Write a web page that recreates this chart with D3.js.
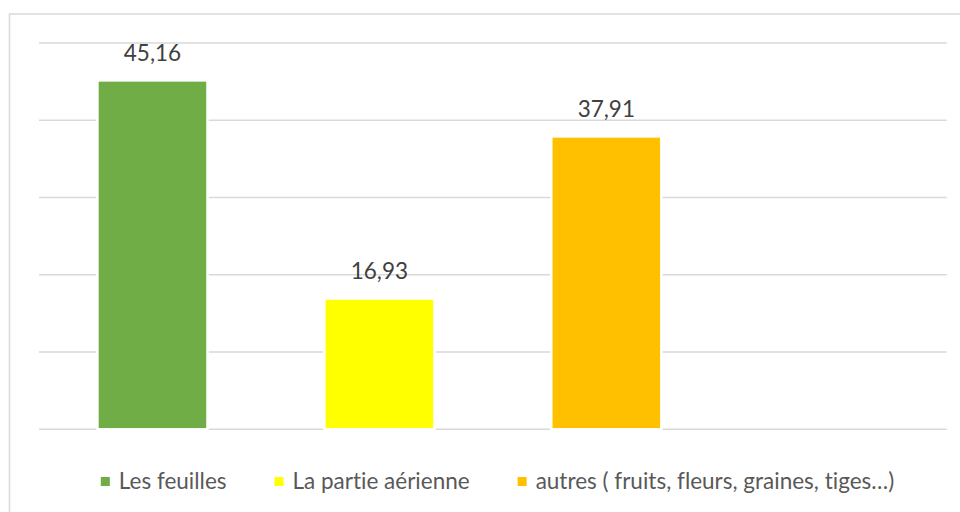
<!DOCTYPE html>
<head>
  <meta charset="UTF-8">
  <title>Parties utilisées</title>
  <script src="https://d3js.org/d3.v7.min.js"></script>
  <style>
    body { margin: 0; background: #fff; }
    svg { display: block; font-family: Lato, "Open Sans", sans-serif; font-variant-ligatures: none; font-feature-settings: "liga" 0, "clig" 0; }
  </style>
</head>
<body>
<svg id="chart"></svg>
<script>
// data
const categories = ["Les feuilles", "La partie aérienne", "autres ( fruits, fleurs, graines, tiges…)", ""];
const values = [45.16, 16.93, 37.91, null];
const labels = ["45,16", "16,93", "37,91"];
const colors = ["#70ad47", "#ffff00", "#ffc000"];
const yTicks = [0, 10, 20, 30, 40, 50];

const width = 960, height = 512;
const svg = d3.select("#chart").attr("width", width).attr("height", height);

// chart frame (right and bottom edge fall outside the picture)
svg.append("rect")
  .attr("x", 9.5).attr("y", 14)
  .attr("width", 1000).attr("height", 600)
  .attr("fill", "none").attr("stroke", "#d9d9d9").attr("stroke-width", 1.5);

const x = d3.scaleBand()
  .domain(d3.range(categories.length))
  .range([39, 946.7])
  .paddingInner(0.515)
  .paddingOuter(0.2575);

const y = d3.scaleLinear().domain([0, 50]).range([429.3, 43]);

// gridlines
svg.append("g")
  .selectAll("line")
  .data(yTicks)
  .enter()
  .append("line")
    .attr("x1", 39).attr("x2", 946.7)
    .attr("y1", d => y(d)).attr("y2", d => y(d))
    .attr("stroke", "#d9d9d9").attr("stroke-width", 1.5);

const data = values.map((v, i) => ({i: i, v: v})).filter(d => d.v !== null);

svg.append("g")
  .selectAll("rect")
  .data(data)
  .enter()
  .append("rect")
    .attr("x", d => x(d.i))
    .attr("y", d => y(d.v))
    .attr("width", x.bandwidth())
    .attr("height", d => y(0) - y(d.v))
    .attr("fill", d => colors[d.i])
    .attr("stroke", "#fff").attr("stroke-width", 2.5);

svg.append("g")
  .selectAll("text")
  .data(data)
  .enter()
  .append("text")
    .attr("x", d => x(d.i) + x.bandwidth() / 2)
    .attr("y", d => y(d.v) - 19)
    .attr("text-anchor", "middle")
    .attr("fill", "#404040")
    .style("font-size", "22.5px")
    .text(d => labels[d.i]);

// legend, centred under the plot
const legend = svg.append("g");
const items = legend.selectAll("g")
  .data(data)
  .enter()
  .append("g");

items.append("rect")
  .attr("width", 9).attr("height", 9)
  .attr("y", 477)
  .attr("fill", d => colors[d.i]);

items.append("text")
  .attr("x", 18).attr("y", 489)
  .attr("fill", "#595959")
  .style("font-size", "22.5px")
  .text(d => categories[d.i]);

let pos = 0;
const gap = 48;
items.each(function () {
  const g = d3.select(this);
  const w = 18 + g.select("text").node().getComputedTextLength();
  g.attr("transform", "translate(" + pos + ",0)");
  pos += w + gap;
});
const total = pos - gap;
legend.attr("transform", "translate(" + (497.5 - total / 2) + ",0)");
</script>
</body>
